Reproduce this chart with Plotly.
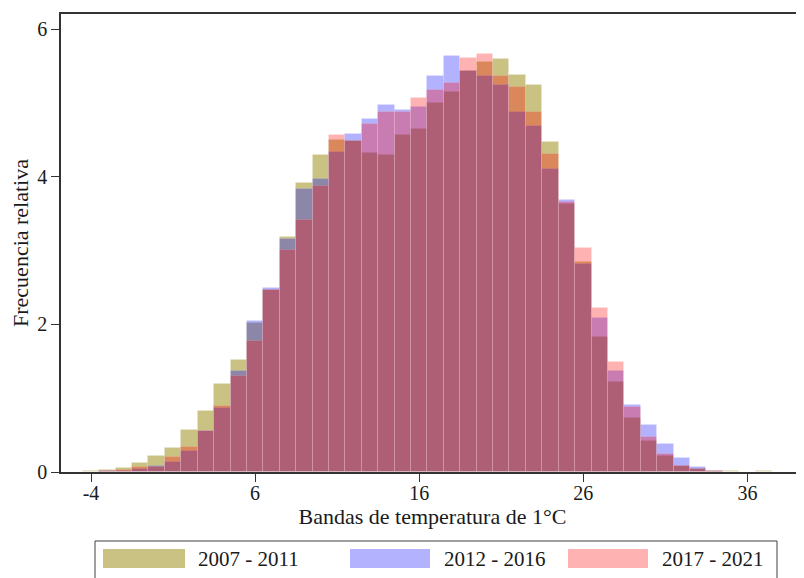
import plotly.graph_objects as go

# bandas de 1°C (centro de cada banda)
bandas = list(range(-4, 38))

frec_2007_2011 = [0.02, 0.03, 0.05, 0.12, 0.22, 0.32, 0.57, 0.83, 1.19, 1.52,
                  2.02, 2.46, 3.19, 3.92, 4.29, 4.50, 4.48, 4.32, 4.30, 4.56,
                  4.65, 5.00, 5.15, 5.43, 5.55, 5.59, 5.38, 5.25, 4.47, 3.63,
                  2.85, 1.83, 1.22, 0.73, 0.42, 0.22, 0.085, 0.035, 0.02, 0.015,
                  0.005, 0.015]
frec_2012_2016 = [0.0, 0.01, 0.02, 0.045, 0.08, 0.135, 0.29, 0.55, 0.87, 1.37,
                  2.04, 2.49, 3.16, 3.84, 3.97, 4.33, 4.58, 4.78, 4.97, 4.90,
                  4.94, 5.36, 5.64, 5.43, 5.37, 5.24, 4.88, 4.69, 4.11, 3.69,
                  2.82, 2.09, 1.37, 0.91, 0.64, 0.375, 0.185, 0.065, 0.02, 0.005,
                  0.0, 0.0]
frec_2017_2021 = [0.005, 0.01, 0.03, 0.07, 0.065, 0.20, 0.335, 0.555, 0.90, 1.30,
                  1.77, 2.46, 3.01, 3.41, 3.88, 4.56, 4.48, 4.71, 4.88, 4.88,
                  5.07, 5.18, 5.27, 5.61, 5.67, 5.36, 5.22, 4.88, 4.31, 3.66,
                  3.04, 2.22, 1.49, 0.875, 0.48, 0.24, 0.085, 0.035, 0.02, 0.005,
                  0.0, 0.0]

x_ticks = [-4, 6, 16, 26, 36]
x_tick_text = ['-4', '6', '16', '26', '36']
y_ticks = [0, 2, 4, 6]

series = [
    ('2007 - 2011', frec_2007_2011, 'rgba(147,133,7,0.5)'),
    ('2012 - 2016', frec_2012_2016, 'rgba(0,0,255,0.3)'),
    ('2017 - 2021', frec_2017_2021, 'rgba(255,0,0,0.3)'),
]

FONT = 'Liberation Serif'
OFF = 8  # margen por defecto del <body>
W, H = 804 - OFF, 578 - OFF

fig = go.Figure()
for nombre, vals, color in series:
    fig.add_trace(go.Bar(
        x=bandas, y=vals, name=nombre, width=1,
        marker=dict(color=color, line=dict(width=1, color='rgba(255,255,255,0.12)')),
        showlegend=False,
    ))

# coordenadas de la ventana -> papel
L, R, T, B = 61, 804, 14, 472
def px(x):
    return (x - L) / (R - L)
def py(y):
    return (B - y) / (B - T)

# leyenda dibujada a mano (cajas anchas como en el original)
shapes = [dict(type='rect', xref='paper', yref='paper',
               x0=px(95), x1=px(777), y0=py(541), y1=py(600),
               line=dict(color='#404040', width=1), fillcolor='rgba(0,0,0,0)')]
annotations = []
sw_x = [(103, 185), (350, 430), (568, 648)]
txt_x = [196, 442, 660]
for (nombre, vals, color), (a, b), t in zip(series, sw_x, txt_x):
    shapes.append(dict(type='rect', xref='paper', yref='paper',
                       x0=px(a), x1=px(b), y0=py(549), y1=py(568),
                       line=dict(width=0), fillcolor=color))
    annotations.append(dict(text=nombre, xref='paper', yref='paper',
                            x=px(t), y=py(558.5), xanchor='left', yanchor='middle',
                            showarrow=False, font=dict(family=FONT, size=21, color='#1a1a1a')))

fig.update_layout(
    width=W, height=H,
    margin=dict(l=L - OFF, r=0, t=T - OFF, b=H - (B - OFF), autoexpand=False),
    paper_bgcolor='white', plot_bgcolor='white',
    barmode='overlay', bargap=0,
    font=dict(family=FONT, size=20, color='#1a1a1a'),
    shapes=shapes, annotations=annotations,
    xaxis=dict(
        range=[-5.83, 39.45], tickvals=x_ticks, ticktext=x_tick_text,
        showgrid=False, zeroline=False, automargin=False,
        showline=True, linecolor='#333333', linewidth=1.5, mirror=True,
        ticks='outside', ticklen=8, tickcolor='#333333',
        tickfont=dict(family=FONT, size=20), ticklabelstandoff=-6,
        title=dict(text='Bandas de temperatura de 1°C', standoff=2,
                   font=dict(family=FONT, size=22)),
    ),
    yaxis=dict(
        range=[0, 6.206], tickvals=y_ticks,
        showgrid=False, zeroline=False, automargin=False,
        showline=True, linecolor='#333333', linewidth=1.5,
        ticks='outside', ticklen=8, tickcolor='#333333',
        tickfont=dict(family=FONT, size=20),
        title=dict(text='Frecuencia relativa', standoff=8,
                   font=dict(family=FONT, size=22)),
    ),
)

fig.write_html("out.html")
